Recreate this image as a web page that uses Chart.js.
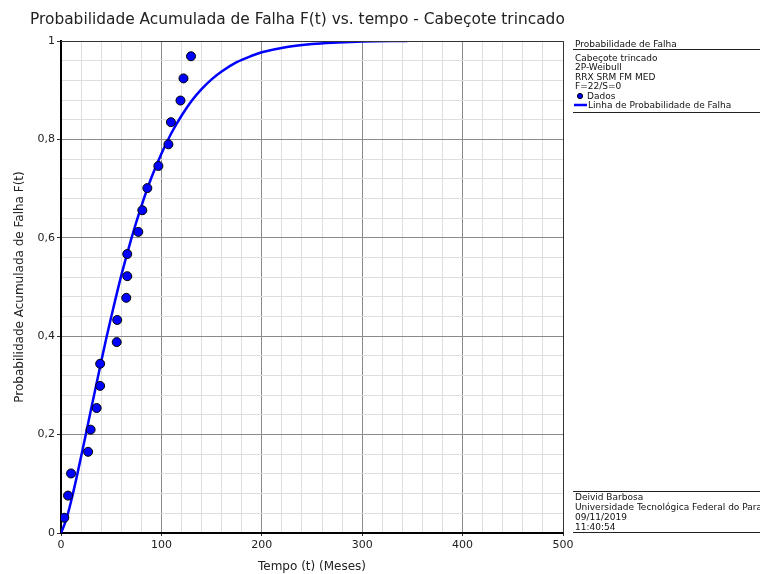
<!DOCTYPE html>
<html lang="pt">
<head>
<meta charset="UTF-8">
<title>Probabilidade Acumulada de Falha</title>
<script src="https://cdn.jsdelivr.net/npm/chart.js"></script>
<style>
  html, body { margin: 0; padding: 0; background: #fff; }
  #wrap { width: 760px; height: 574px; position: relative; }
</style>
</head>
<body>
<div id="wrap"><canvas id="falha"></canvas></div>
<script>
// failure times (months) and median rank F(t)
const tempos = [3.3, 7, 10, 27, 29.5, 35.5, 39, 39, 55.5, 56, 65, 66, 66, 77, 81, 86, 97, 107, 109.5, 119, 122, 129.5];
const probs  = [0.031, 0.076, 0.121, 0.165, 0.210, 0.254, 0.299, 0.344, 0.388, 0.433, 0.478, 0.522, 0.567, 0.612, 0.656, 0.701, 0.746, 0.790, 0.835, 0.879, 0.924, 0.969];

// fitted probability line
const linhaT = [0, 5, 10, 15, 20, 25, 30, 35, 40, 45, 50, 60, 70, 80, 90, 100, 110, 120, 130, 140, 150, 160, 175, 190, 200, 225, 250, 275, 300, 345];
const linhaF = [0, 0.026, 0.064, 0.108, 0.155, 0.203, 0.252, 0.300, 0.348, 0.395, 0.439, 0.523, 0.598, 0.664, 0.722, 0.771, 0.813, 0.848, 0.878, 0.902, 0.922, 0.938, 0.957, 0.970, 0.977, 0.988, 0.994, 0.997, 0.999, 1.0];

const legendaTopo = ["Cabeçote trincado", "2P-Weibull", "RRX SRM FM MED", "F=22/S=0"];
const rodape = ["Deivid Barbosa", "Universidade Tecnológica Federal do Paraná", "09/11/2019", "11:40:54"];

const FONT = "'DejaVu Sans', Verdana, sans-serif";

const isMajor = (v, step) => Math.abs(v / step - Math.round(v / step)) < 1e-6;

// title, frame and the right-hand info panel
const painel = {
  id: 'painel',
  afterDraw(chart) {
    const ctx = chart.ctx;
    const a = chart.chartArea;
    ctx.save();
    // title
    ctx.fillStyle = '#222';
    ctx.font = '15.4px ' + FONT;
    ctx.textBaseline = 'middle';
    ctx.textAlign = 'left';
    ctx.fillText('Probabilidade Acumulada de Falha F(t) vs. tempo - Cabeçote trincado', 30, 20);

    // top/right frame
    ctx.strokeStyle = '#333';
    ctx.lineWidth = 1;
    ctx.beginPath();
    ctx.moveTo(a.left, a.top + 0.5);
    ctx.lineTo(a.right + 0.5, a.top + 0.5);
    ctx.lineTo(a.right + 0.5, a.bottom);
    ctx.stroke();

    const x0 = 573;
    ctx.font = '9px ' + FONT;
    ctx.fillStyle = '#111';
    ctx.fillText('Probabilidade de Falha', 575, 45);
    ctx.beginPath();
    ctx.moveTo(x0, 49.5); ctx.lineTo(760, 49.5);
    ctx.moveTo(x0, 112.5); ctx.lineTo(760, 112.5);
    ctx.moveTo(x0, 491.5); ctx.lineTo(760, 491.5);
    ctx.moveTo(x0, 532.5); ctx.lineTo(760, 532.5);
    ctx.strokeStyle = '#222';
    ctx.stroke();

    legendaTopo.forEach((s, i) => ctx.fillText(s, 575, 58.5 + i * 9.4));
    // Dados marker
    ctx.beginPath();
    ctx.arc(580, 96, 2.6, 0, Math.PI * 2);
    ctx.fillStyle = '#0000ff';
    ctx.fill();
    ctx.strokeStyle = '#000';
    ctx.stroke();
    ctx.fillStyle = '#111';
    ctx.fillText('Dados', 587, 96.5);
    // line marker
    ctx.beginPath();
    ctx.moveTo(574, 105); ctx.lineTo(587, 105);
    ctx.strokeStyle = '#0000ff';
    ctx.lineWidth = 2.5;
    ctx.stroke();
    ctx.fillText('Linha de Probabilidade de Falha', 588, 105.5);

    rodape.forEach((s, i) => ctx.fillText(s, 575, 498 + i * 9.8));
    ctx.restore();
  }
};

new Chart(document.getElementById('falha'), {
  type: 'scatter',
  data: {
    datasets: [
      {
        label: 'Dados',
        data: tempos.map((t, i) => ({ x: t, y: probs[i] })),
        backgroundColor: '#0000ff',
        borderColor: '#000',
        borderWidth: 1,
        pointRadius: 4.5,
        order: 1
      },
      {
        label: 'Linha de Probabilidade de Falha',
        type: 'line',
        data: linhaT.map((t, i) => ({ x: t, y: linhaF[i] })),
        borderColor: '#0000ff',
        borderWidth: 2.5,
        pointRadius: 0,
        cubicInterpolationMode: 'monotone',
        fill: false,
        order: 2
      }
    ]
  },
  options: {
    responsive: true,
    maintainAspectRatio: false,
    animation: false,
    layout: { padding: { left: 0, top: 41, right: 197, bottom: 0 } },
    plugins: {
      legend: { display: false },
      tooltip: { enabled: false }
    },
    scales: {
      x: {
        type: 'linear',
        min: 0, max: 500,
        border: { color: '#000', width: 2 },
        grid: {
          color: c => isMajor(c.tick.value, 100) ? '#8a8a8a' : '#dedede',
          tickColor: c => isMajor(c.tick.value, 100) ? '#333' : 'rgba(0,0,0,0)',
          tickLength: 3
        },
        ticks: {
          stepSize: 20,
          autoSkip: false,
          maxRotation: 0,
          padding: 3,
          color: '#222',
          font: { family: FONT, size: 11 },
          callback: v => isMajor(v, 100) ? String(v) : ''
        },
        title: {
          display: true,
          text: 'Tempo (t) (Meses)',
          color: '#222',
          font: { family: FONT, size: 12 },
          padding: { top: 5, bottom: 0 }
        },
        afterFit: s => { s.height = 41; }
      },
      y: {
        type: 'linear',
        min: 0, max: 1,
        border: { color: '#000', width: 2 },
        grid: {
          color: c => isMajor(c.tick.value, 0.2) ? '#8a8a8a' : '#dedede',
          tickColor: c => isMajor(c.tick.value, 0.2) ? '#333' : 'rgba(0,0,0,0)',
          tickLength: 4
        },
        ticks: {
          stepSize: 0.04,
          autoSkip: false,
          padding: 2,
          color: '#222',
          font: { family: FONT, size: 11 },
          callback: v => isMajor(v, 0.2) ? String(Math.round(v * 10) / 10).replace('.', ',') : ''
        },
        title: {
          display: true,
          text: 'Probabilidade Acumulada de Falha F(t)',
          color: '#222',
          font: { family: FONT, size: 12 },
          padding: { top: 13, bottom: 0 }
        },
        afterFit: s => { s.width = 61; }
      }
    }
  },
  plugins: [painel]
});
</script>
</body>
</html>
